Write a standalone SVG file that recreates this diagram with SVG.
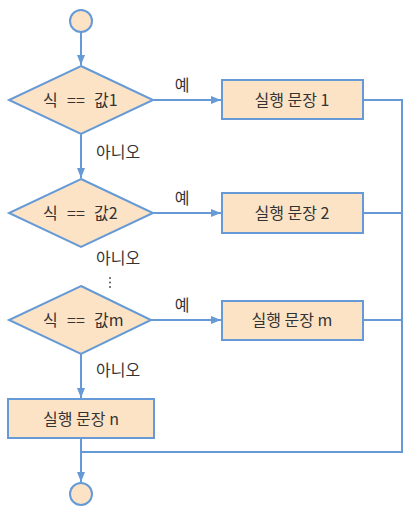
<svg xmlns="http://www.w3.org/2000/svg" width="414" height="516" viewBox="0 0 414 516">
<style>
.sh{fill:#fde3c6;stroke:#659ad6;stroke-width:2}
.ln{fill:none;stroke:#659ad6;stroke-width:2}
text{font-family:"Noto Sans CJK KR","Noto Sans",sans-serif;font-size:16px;fill:#333}
.c{text-anchor:middle}
</style>
<defs>
<marker id="ar" viewBox="0 0 10 8" refX="10" refY="4" markerWidth="10" markerHeight="8" markerUnits="userSpaceOnUse" orient="auto">
<path d="M0,0 L10,4 L0,8 Z" fill="#659ad6"/>
</marker>
</defs>
<g id="connectors">
<line class="ln" x1="81" y1="32" x2="81" y2="65" marker-end="url(#ar)"/>
<line class="ln" x1="153" y1="100" x2="221" y2="100" marker-end="url(#ar)"/>
<line class="ln" x1="81" y1="134" x2="81" y2="178" marker-end="url(#ar)"/>
<line class="ln" x1="153" y1="213" x2="221" y2="213" marker-end="url(#ar)"/>
<line class="ln" x1="151" y1="320" x2="221" y2="320" marker-end="url(#ar)"/>
<line class="ln" x1="81" y1="354" x2="81" y2="398" marker-end="url(#ar)"/>
<line class="ln" x1="81" y1="438" x2="81" y2="482" marker-end="url(#ar)"/>
<polyline class="ln" points="363,100 402,100 402,452 81,452"/>
<line class="ln" x1="363" y1="213" x2="402" y2="213"/>
<line class="ln" x1="363" y1="320" x2="402" y2="320"/>
<text x="182" y="91" class="c">예</text>
<text x="182" y="204" class="c">예</text>
<text x="182" y="311" class="c">예</text>
<text x="96" y="158">아니오</text>
<text x="96" y="264">아니오</text>
<text x="96" y="376">아니오</text>
<circle cx="110" cy="278" r="1" fill="#555"/>
<circle cx="110" cy="282.5" r="1" fill="#555"/>
<circle cx="110" cy="287" r="1" fill="#555"/>
</g>
<g id="start"><circle class="sh" cx="81" cy="21" r="11"/></g>
<g id="cond1"><polygon class="sh" points="81,66 153,100 81,134 9,100"/><text y="106"><tspan x="43">식</tspan><tspan x="67">==</tspan><tspan x="94">값1</tspan></text></g>
<g id="stmt1"><rect class="sh" x="222" y="80" width="141" height="39"/><text x="292" y="106" class="c">실행 문장 1</text></g>
<g id="cond2"><polygon class="sh" points="81,179 153,213 81,247 9,213"/><text y="219"><tspan x="43">식</tspan><tspan x="67">==</tspan><tspan x="94">값2</tspan></text></g>
<g id="stmt2"><rect class="sh" x="222" y="193" width="141" height="40"/><text x="292" y="219" class="c">실행 문장 2</text></g>
<g id="condm"><polygon class="sh" points="81,286 151,320 81,354 9,320"/><text y="326"><tspan x="43">식</tspan><tspan x="67">==</tspan><tspan x="94">값m</tspan></text></g>
<g id="stmtm"><rect class="sh" x="222" y="301" width="141" height="39"/><text x="292" y="326" class="c">실행 문장 m</text></g>
<g id="stmtn"><rect class="sh" x="8" y="399" width="146" height="39"/><text x="81" y="425" class="c">실행 문장 n</text></g>
<g id="end"><circle class="sh" cx="81" cy="494" r="11"/></g>
</svg>
